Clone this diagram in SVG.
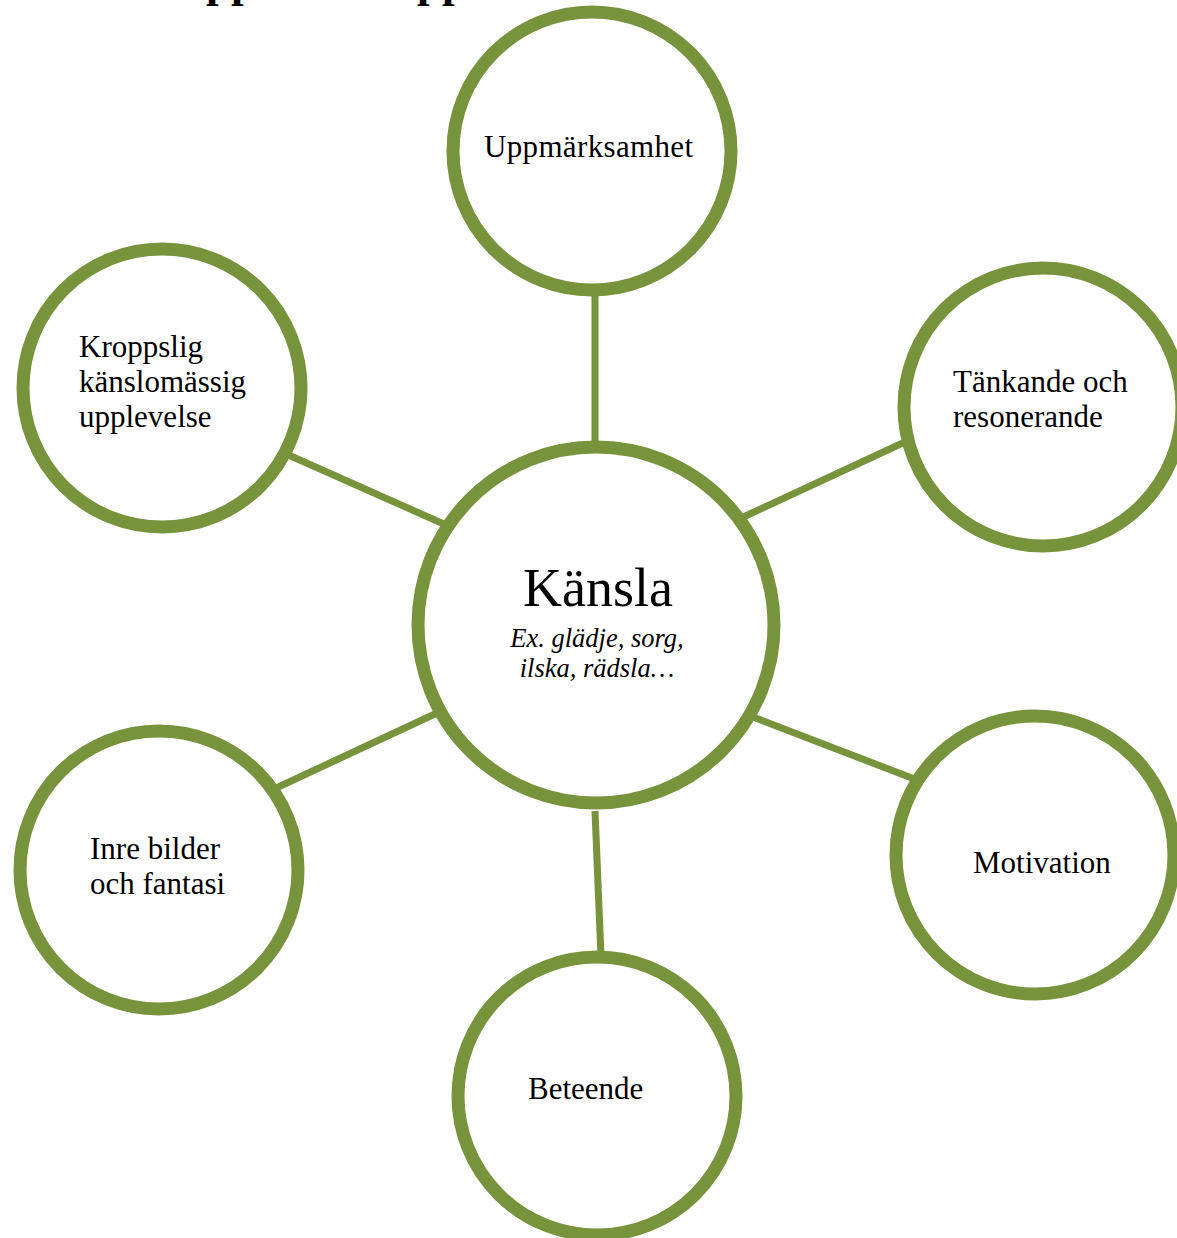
<svg xmlns="http://www.w3.org/2000/svg" width="1177" height="1238" viewBox="0 0 1177 1238">
<style>
.ring{fill:#fff;stroke:#77933C;stroke-width:13}
.conn{stroke:#77933C;stroke-width:7;fill:none}
.lbl{font-family:"Liberation Serif","Times New Roman",serif;font-size:31px;fill:#000}
.big{font-family:"Liberation Serif","Times New Roman",serif;font-size:54px;fill:#000}
.it{font-family:"Liberation Serif","Times New Roman",serif;font-size:26.5px;font-style:italic;fill:#000}
.title{font-family:"Liberation Serif","Times New Roman",serif;font-size:45px;font-weight:bold;fill:#000}
</style>
<rect width="1177" height="1238" fill="#fff"/>
<g id="title-fragment">
<text class="title" x="206" y="-3">pp</text>
<text class="title" x="417" y="-3">pp</text>
</g>
<g id="connectors">
<line class="conn" x1="595" y1="292" x2="595" y2="444"/>
<line class="conn" x1="284" y1="453" x2="446" y2="525"/>
<line class="conn" x1="907" y1="441" x2="739" y2="519"/>
<line class="conn" x1="917" y1="780" x2="753" y2="717"/>
<line class="conn" x1="274" y1="789" x2="437" y2="713"/>
<line class="conn" x1="595" y1="811" x2="601" y2="956"/>
</g>
<g id="node-kansla">
<circle class="ring" cx="596" cy="625" r="178"/>
<text class="big" x="598" y="606" text-anchor="middle">Känsla</text>
<text class="it" x="597" y="647" text-anchor="middle">Ex. glädje, sorg,</text>
<text class="it" x="597" y="677" text-anchor="middle">ilska, rädsla…</text>
</g>
<g id="node-uppmarksamhet">
<circle class="ring" cx="592" cy="151" r="139"/>
<text class="lbl" x="484" y="157" textLength="209">Uppmärksamhet</text>
</g>
<g id="node-kroppslig">
<circle class="ring" cx="162" cy="388" r="139"/>
<text class="lbl" x="79" y="357">Kroppslig</text>
<text class="lbl" x="79" y="392">känslomässig</text>
<text class="lbl" x="79" y="427">upplevelse</text>
</g>
<g id="node-tankande">
<circle class="ring" cx="1043" cy="407" r="139"/>
<text class="lbl" x="953" y="392">Tänkande och</text>
<text class="lbl" x="953" y="427">resonerande</text>
</g>
<g id="node-motivation">
<circle class="ring" cx="1035" cy="855" r="139"/>
<text class="lbl" x="973" y="873">Motivation</text>
</g>
<g id="node-inre">
<circle class="ring" cx="159" cy="870" r="139"/>
<text class="lbl" x="90" y="859">Inre bilder</text>
<text class="lbl" x="90" y="894">och fantasi</text>
</g>
<g id="node-beteende">
<circle class="ring" cx="597" cy="1096" r="139"/>
<text class="lbl" x="528" y="1099">Beteende</text>
</g>
</svg>
